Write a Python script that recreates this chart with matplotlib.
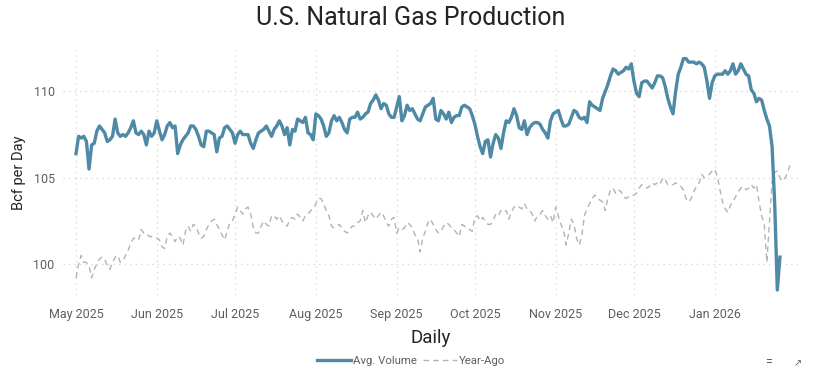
import matplotlib
matplotlib.use('Agg')
import matplotlib.pyplot as plt
import matplotlib.dates as mdates
import pandas as pd

plt.rcParams.update({'font.family': ['Roboto', 'DejaVu Sans'], 'font.size': 9})

# Daily dry gas production, Bcf/d
AVG_START = '2025-05-01'
avg_volume = [
    106.4, 107.4, 107.3, 107.4, 107.1, 105.5, 106.9, 107.0, 107.7, 108.0,
    107.8, 107.6, 107.1, 107.2, 107.4, 108.4, 107.6, 107.4, 107.5, 107.4,
    107.6, 107.9, 108.3, 107.6, 107.5, 107.7, 107.5, 106.9, 107.7, 107.4,
    107.6, 108.3, 107.7, 107.2, 107.5, 108.0, 108.2, 107.9, 108.0, 106.4,
    106.9, 107.2, 107.4, 107.6, 108.0, 108.0, 107.8, 107.4, 106.9, 106.8,
    107.7, 107.7, 107.6, 107.5, 106.5, 107.3, 107.4, 107.9, 108.0, 107.8,
    107.6, 107.0, 107.5, 107.7, 107.5, 107.5, 107.5, 107.0, 106.7, 107.2,
    107.6, 107.7, 107.8, 108.0, 107.7, 107.4, 107.8, 108.0, 108.3, 108.0,
    107.5, 107.9, 106.9, 107.8, 107.7, 108.4, 108.3, 108.2, 108.5, 107.6,
    107.5, 107.2, 108.7, 108.6, 108.4, 108.0, 107.4, 107.6, 108.3, 108.6,
    108.3, 108.5, 108.2, 107.8, 107.6, 108.4, 108.5, 108.5, 108.8, 108.4,
    108.5, 108.7, 108.8, 109.3, 109.5, 109.8, 109.5, 109.0, 109.3, 109.2,
    108.7, 108.5, 108.5, 109.1, 109.7, 108.3, 108.6, 109.2, 108.9, 109.0,
    108.7, 108.4, 108.3, 108.7, 109.1, 109.2, 109.3, 109.6, 108.4, 108.3,
    108.9, 108.7, 108.4, 108.8, 108.2, 108.5, 108.6, 108.6, 109.1, 109.2,
    109.1, 109.0, 108.6, 108.1, 107.4, 106.8, 106.4, 107.1, 107.2, 106.2,
    107.0, 107.5, 107.3, 106.7, 107.6, 108.3, 108.2, 108.5, 109.0, 108.6,
    107.9, 107.8, 108.3, 107.5, 107.9, 108.1, 108.2, 108.2, 108.1, 107.8,
    107.6, 107.3, 108.3, 108.7, 108.8, 108.9, 108.4, 108.0, 108.0, 108.1,
    108.5, 108.9, 108.8, 108.5, 108.4, 108.5, 108.2, 109.4, 109.2, 109.1,
    109.0, 108.9, 109.6, 110.0, 110.4, 110.9, 111.3, 111.2, 111.0, 111.1,
    111.2, 111.4, 111.3, 111.6, 110.6, 109.9, 109.7, 110.5, 110.6, 110.6,
    110.4, 110.2, 110.5, 110.9, 110.9, 110.8, 110.3, 109.6, 109.1, 108.7,
    110.0, 111.0, 111.4, 111.9, 111.9, 111.7, 111.7, 111.7, 111.6, 111.7,
    111.6, 111.4, 110.6, 109.6, 110.5, 110.9, 111.0, 111.0, 111.0, 111.2,
    111.0, 111.2, 111.6, 111.0, 111.2, 111.6, 111.3, 111.0, 110.9, 110.1,
    109.9, 109.4, 109.6, 109.5, 108.9, 108.4, 108.0, 106.8, 103.5, 98.5,
    100.4,
]

# Same calendar days one year earlier, plotted on the current-year axis
YAGO_START = '2025-05-01'
year_ago = [
    99.2, 100.0, 100.5, 100.1, 100.1, 99.9, 99.2, 99.7, 100.0, 100.3,
    100.4, 100.3, 99.9, 99.7, 100.1, 100.4, 100.5, 100.1, 100.2, 100.5,
    100.8, 101.2, 101.5, 101.5, 101.4, 102.0, 101.8, 101.8, 101.6, 101.6,
    101.6, 101.5, 101.4, 101.0, 100.9, 101.6, 101.8, 101.6, 101.3, 101.6,
    101.5, 101.1, 101.9, 102.2, 101.9, 102.3, 102.2, 101.8, 101.5, 101.6,
    102.0, 102.3, 102.5, 102.6, 102.3, 102.0, 101.7, 101.4, 101.9, 102.4,
    102.5, 102.9, 103.3, 103.1, 102.9, 103.2, 103.3, 102.9, 102.1, 101.8,
    101.8, 102.2, 102.5, 102.3, 102.2, 102.8, 102.8, 102.6, 102.8, 102.5,
    102.3, 102.2, 102.6, 102.7, 102.6, 102.9, 102.7, 102.5, 102.8, 102.9,
    103.1, 103.2, 103.5, 103.8, 103.8, 103.5, 103.1, 102.8, 102.2, 102.1,
    102.2, 102.3, 102.1, 101.9, 101.8, 102.0, 102.2, 102.2, 102.4, 102.5,
    103.1, 102.4, 102.8, 103.0, 102.8, 102.6, 102.8, 103.0, 102.8, 102.4,
    102.2, 102.6, 102.7, 101.8, 102.1, 102.0, 102.1, 102.4, 102.3, 102.1,
    101.7, 101.5, 100.7, 101.5, 101.9, 102.4, 102.6, 102.3, 102.0, 101.8,
    101.9, 102.2, 102.4, 102.3, 102.1, 102.0, 101.8, 101.6, 102.3, 102.2,
    102.1, 102.0, 101.9, 102.7, 102.8, 102.5, 102.7, 102.5, 102.3, 102.3,
    102.5, 102.9, 102.8, 103.1, 103.0, 103.1, 102.6, 103.0, 103.3, 103.4,
    103.3, 103.2, 103.5, 103.2, 103.1, 102.9, 102.5, 102.8, 102.9, 103.1,
    102.8, 102.6, 102.8, 102.4, 103.3, 102.8, 102.3, 102.0, 101.1, 101.8,
    102.6, 102.3, 101.5, 101.1, 101.6, 102.8, 103.2, 103.5, 103.8, 104.0,
    103.8, 103.7, 103.6, 103.1, 103.8, 104.3, 104.4, 104.1, 104.3, 104.2,
    103.9, 103.8, 103.9, 104.0, 104.0, 104.1, 104.4, 104.6, 104.5, 104.4,
    104.5, 104.7, 104.6, 104.7, 104.6, 105.0, 104.9, 104.6, 104.6, 104.6,
    104.7, 104.6, 104.5, 104.3, 103.8, 103.6, 103.8, 104.2, 104.5, 104.7,
    105.2, 105.0, 105.1, 105.2, 105.4, 105.5, 105.1, 104.3, 103.6, 103.2,
    103.0, 103.4, 103.6, 103.9, 104.2, 104.4, 104.5, 104.3, 104.4, 104.6,
    104.4, 104.6, 103.6, 102.8, 102.3, 100.1, 102.5, 104.8, 105.3, 105.4,
    105.0, 104.8, 105.0, 105.3, 105.8,
]

y_ticks = [100, 105, 110]
month_ticks = ['2025-05-01', '2025-06-01', '2025-07-01', '2025-08-01', '2025-09-01',
               '2025-10-01', '2025-11-01', '2025-12-01', '2026-01-01']

C_AVG = '#4E89A5'
C_YAGO = '#B3B3B3'
C_TXT = '#605E5C'
C_GRID = '#D9D9D9'


def draw():
    fig = plt.figure(figsize=(8.22, 3.76), dpi=100)
    ax = fig.add_axes([0.0766, 0.215, 0.8944, 0.652])

    d_avg = pd.date_range(AVG_START, periods=len(avg_volume), freq='D')
    d_yago = pd.date_range(YAGO_START, periods=len(year_ago), freq='D')

    ax.plot(d_yago, year_ago, color=C_YAGO, lw=1.0, ls=(0, (4, 3)), label='Year-Ago', zorder=2)
    ax.plot(d_avg, avg_volume, color=C_AVG, lw=2.4, solid_joinstyle='round', label='Avg. Volume', zorder=3)

    ax.set_xlim(pd.Timestamp('2025-04-26'), pd.Timestamp('2026-02-02'))
    ax.set_ylim(98.2, 112.4)
    ax.set_yticks(y_ticks)
    ax.set_xticks(pd.to_datetime(month_ticks))
    ax.xaxis.set_major_formatter(mdates.DateFormatter('%b %Y'))

    ax.grid(True, color=C_GRID, ls=(0, (1, 3)), lw=1.0)
    for s in ax.spines.values():
        s.set_visible(False)
    ax.tick_params(length=0, colors=C_TXT, labelsize=9)
    ax.tick_params(axis='y', pad=6)
    ax.tick_params(axis='x', pad=9)

    ax.set_ylabel('Bcf per Day', fontsize=10.5, color='#252423', labelpad=5)
    ax.set_xlabel('Daily', fontsize=13.5, color='#252423', labelpad=6)
    fig.text(0.50, 0.952, 'U.S. Natural Gas Production', ha='center', va='center',
             fontsize=18, color='#252423')

    h, l = ax.get_legend_handles_labels()
    fig.legend(h[::-1], l[::-1], loc='center', bbox_to_anchor=(0.5, 0.04), ncol=2, frameon=False,
               fontsize=8.2, labelcolor=C_TXT, handlelength=3.0, handletextpad=0.2,
               columnspacing=0.5)

    fig.text(0.935, 0.035, '=', ha='center', va='center', fontsize=9, color=C_TXT)
    fig.text(0.970, 0.035, '\u2197', ha='center', va='center', fontsize=7, color=C_TXT)

    fig.savefig('out.png', dpi=100, facecolor='white')
    plt.close(fig)


if __name__ == '__main__':
    draw()
